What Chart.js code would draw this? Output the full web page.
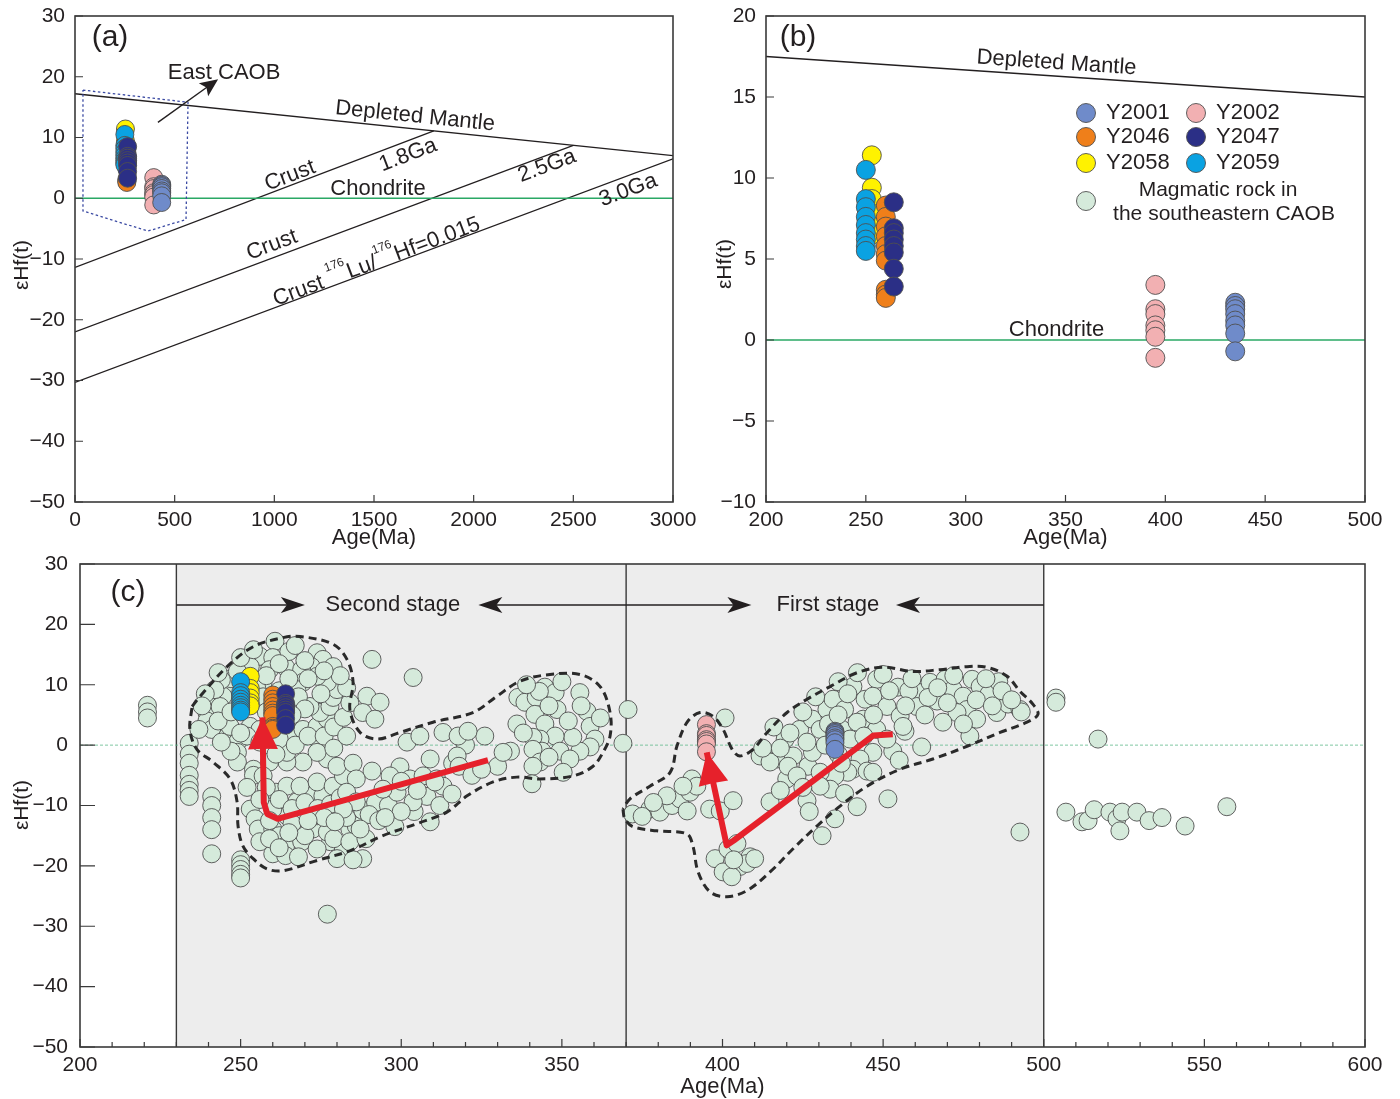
<!DOCTYPE html>
<html>
<head>
<meta charset="utf-8">
<script src="https://cdn.jsdelivr.net/npm/chart.js@4.4.1/dist/chart.umd.min.js"></script>
<style>
  body { margin: 0; background: #fff; }
  #wrap { position: relative; width: 1400px; height: 1099px; }
  canvas { position: absolute; }
</style>
</head>
<body>
<div id="wrap">
  <canvas id="chartA" width="700" height="550" style="left:0;top:0"></canvas>
  <canvas id="chartB" width="700" height="550" style="left:700px;top:0"></canvas>
  <canvas id="chartC" width="1400" height="549" style="left:0;top:550px"></canvas>
</div>
<script>
// ---------- samples (Age Ma, eHf(t)) ----------
const sampleNames = ['Y2001', 'Y2002', 'Y2046', 'Y2047', 'Y2058', 'Y2059'];
const y2001 = [[435,2.3],[435,2.1],[435,1.9],[435,1.6],[435,1.2],[435,0.9],[435,0.4],[435,-0.7]];
const y2002 = [[395,3.4],[395,1.9],[395,1.6],[395,0.9],[395,0.6],[395,0.2],[395,-1.1]];
const y2046 = [[260,8.3],[260,7.6],[260,7.0],[260,6.4],[260,5.8],[260,5.3],[260,4.9],[260,3.1],[260,2.8],[260,2.6]];
const y2047 = [[264,8.5],[264,6.9],[264,6.6],[264,6.2],[264,5.8],[264,5.4],[264,4.4],[264,3.3]];
const y2058 = [[253,11.4],[253,9.4],[253,8.7],[253,7.8],[253,7.0],[253,6.5]];
const y2059 = [[250,10.5],[250,8.7],[250,8.2],[250,7.6],[250,7.1],[250,6.6],[250,6.2],[250,5.8],[250,5.5]];

// ---------- magmatic rocks of the southeastern CAOB (panel c) ----------
const rockSecondStage = [
  [221,6.6],[221,5.5],[221,4.5],
  [234,0.3],[234,-1.5],[234,-3],[234,-5],[234,-6.5],[234,-7.5],[234,-8.5],
  [241,-8.5],[241,-10],[241,-12],[241,-14],[241,-18],
  [250,-19],[250,-19.8],[250,-20.6],[250,-21.4],[250,-22],[277,-28],
  [260.7,17.2],[256,14.7],[260,14.5],[273.8,15.3],[275.6,14.2],[278.8,13],[272,13],[264,12.9],[269,12.5],[259,12.5],
  [253,13],[246,9.7],[240,7.3],[239.5,5.4],[239.5,4],[241,2.6],[237,2.6],[244.5,4.8],[246,1.5],[249,0.5],
  [249,-1.2],[249,-2.8],[254,-4],[254,-5],[253,-10.6],[254.5,-12.2],[255.5,-13.9],[260,-13.9],[262,-15],[260,-18],
  [264,-16.7],[264,-18.3],[269,-16],[272.5,-13.9],[278,-16],[282,-17.2],[284,-13.9],[286,-13.4],[288,-18.8],[280,-18.8],
  [273.8,-17.2],[277,-14.4],[269,-11.7],[273.8,-11.7],[264.4,-11.7],[260,-10.6],[267.5,-9.4],[271.6,-8.4],[275.6,-8.4],[261,-7.8],
  [264.4,-6.8],[268.5,-6.8],[273.8,-6.1],[278.8,-6.8],[282,-5.1],[277,-2.3],[280,-3.5],[274.7,0.5],[273.8,-1.2],[269.4,-2.8],
  [264.4,-2.8],[264.4,-1.2],[259,-0.7],[259,-2.8],[257,-5.1],[266.3,1.5],[262,1],[269.4,2.6],[273.8,3.1],[277,4.3],
  [274.7,5.4],[271.6,6.4],[277.8,6.4],[278.8,7.9],[280,9.2],[277,10.4],[273.8,11.4],[269.4,10.4],[267.5,9.2],[257,10.4],
  [244.5,8.1],[243.6,6.4],[246.7,3.1],[253,3.1],[256,2.6],[252,1.5],
  [247,11],[249,12.2],[251,10.5],[255,9.5],[257,8],[262,9],[265,11],[268,8],[270,6],[266,5],
  [262,4.5],[258,5.5],[244,10.8],[242,9.2],[239,8.5],[238,6.5],[243,4],[247,5.5],[250,2],[256,0.5],
  [261,-1.5],[267,0],[271,1.5],[276,1.5],[279,3],[282,4.6],[284,7],[283,9.5],[281,11.5],[276,12.3],
  [270,14],[265,15.5],[262,13.5],[258,11.5],
  [258,-7],[262,-9],[266,-10.5],[270,-9.5],[274,-10.5],[278,-9.8],[281,-8.7],[266,-13],[270,-15],[276,-12],
  [283,-12],[288,-10.8],[292,-9.5],[296,-10],[256,-16],[259,-15.5],[262,-17],[268,-18.5],[285,-19],[290,-11.5],
  [243,12],[250,14.5],[254,15.8],[267,16.5],[271,11],[275,8.5],[279,-0.5],[283,1.5],[285,-3],[247,-1],
  [244,0.5],[252,-7],[256,-9],[259,-12.5],[265,-14.5],[271,-12.5],[279,-15.5],[284,-16],[289,-15.5],[293,-12.5],
  [298,-13.5],[304,-11],[308,-8.5],[312,-10],[316,-3],[320,0],[326,1.5],[330,-3.5],[334,-1],
  [290.9,14.2],[303.7,11.2],[289.3,8.1],[293.4,7.1],[288,5.4],[291.8,4.3],[301.8,0.5],[305.8,1.5],[313,2.1],[317.7,1.5],
  [320.8,2.3],[317.4,-1.8],[309,-2.3],[299.6,-3.6],[296.5,-5.1],[302.7,-5.6],[306.8,-5.1],[311,-5.6],[313,-6.8],[315.8,-8.1],
  [303.7,-9.4],[298.7,-7.8],[294.3,-7.3],[290.9,-4.3],[286,-5.6],[283,-7.8],[286,-9.4],[282,-10.6],[309,-12.7],[279.4,-12.7],
  [287.2,-13.9],[310.5,-6.1],[300,-6],[305,-7.5],[318,-3.5],[322,-5],[325,-4],[300,-11],[295,-12],[331.7,-1.2],
  [336.3,7.9],[338.5,7.1],[344.7,9.6],[347.9,8.7],[342,7.9],[341.6,5.1],[336,3.5],[344.7,3.5],[348.5,5.9],[355.6,8.7],
  [357.8,5.6],[358.8,3.1],[360.3,1],[358.8,-0.3],[355.6,-1],[353.4,1.3],[347.9,1.5],[343.2,1],[341,1.3],[343.8,-1],
  [341,-0.7],[349.4,-1],[352.5,-2.3],[343.2,-2.8],[341,-3.5],[350.4,-4.5],[340.7,-6.4],[343,8.9],[370.6,5.9],[369,0.3],
  [346,-2],[338,2],[352,4],[346,6.5],[339,10],[350,10.5],[356,6.5],[362,4.5]
];
const rockFirstStage = [
  [400.8,4.5],[372,-11.4],[377.4,-10.6],[380.5,-11.1],[384.3,-10],[386.8,-8.9],[389,-10.9],[389.9,-7.8],[390.5,-5.6],[392,-6.8],
  [396,-10.6],[399.3,-10.9],[403.3,-9.2],[382.7,-8.4],[387.7,-6.8],[375,-11.8],[378.5,-9.5],
  [397.7,-18.8],[401.7,-17.2],[404.5,-16.3],[408.6,-18.5],[405.4,-20.1],[400.2,-21],[402.9,-21.8],[407.6,-19.6],[410,-18.8],[403.5,-19],
  [414.8,-9.4],[420,-5.6],[426.3,-9.2],[419.5,1],[417,-2.3],[422,-1.8],[426.6,-3.5],[428,-1.2],[424,2.6],[428,4.3],
  [432.5,5.9],[434.4,7.6],[438,5.9],[440.6,9.7],[444.4,7.6],[443.8,4.3],[448,10.9],[450,11.7],[454.6,9.6],[446.8,8.1],
  [451.2,6.4],[455.3,4.8],[456.8,2.3],[453,-1],[446.8,-1.2],[442.8,-2.3],[440.6,-4],[445,-4.3],[446.8,-4.5],[439,-4.5],
  [435,-5.1],[430.4,-4.5],[433.5,-7.3],[430.4,-6.8],[435,-12.2],[431,-15],[441.9,-10.2],[451.5,-8.9],[462,-0.3],[461.5,8.7],
  [464.6,10.4],[466.8,7.3],[469.3,10.9],[471.8,9.2],[474.9,8.1],[477.7,10.9],[480.2,9.7],[476.1,5.9],[473,5.4],[468.6,3.8],
  [477,1.5],[479.1,4.3],[485.4,5.4],[488.9,6.8],[492.6,5.9],[493,5.5],[460.5,6.4],[464,7.9],[437.2,2.6],[439.7,1],
  [430.4,2.6],[426.3,0.5],[420.4,-3.5],[423.2,-5.1],[411.7,-1.8],[414.8,-2.8],[441.9,3.8],[448,2.6],[451.2,1],[456.2,3.1],
  [436,10.5],[442,12],[458,9],[483,8.5],[486,10.5],[470,7],[412.5,-0.5],[432,0],[436,-1.5],[492.6,-14.4],
  [416,3],[418,-0.5],[421,2],[425,5.5],[429,8],[433,3.5],[437,-3],[444,1.5],[447,5],[452,9],
  [457,6.5],[459,11],[463,5],[467,9.5],[472,11.5],[475,3.5],[479,7.5],[482,11],[484,6.5],[487,9],
  [490,7.5],[455,-2.5],[438,-8],[427,-11],[425,-7],[418,-7.5],[436,5],[439,8.5]
];
const rockOutside = [
  [503.8,7.8],[503.8,7.1],[516.9,1],[506.9,-11.1],[511.9,-12.7],[513.8,-12.5],[515.7,-10.7],[520.6,-11.1],
  [522.8,-12.2],[523.7,-14.2],[524.4,-11.1],[529,-11.1],[532.8,-12.5],[536.8,-12],[544,-13.4],[557,-10.2]
];

// ---------- reference lines ----------
const dmA = [[0,17.2],[3000,7.0]];
const crust18 = [[0,-11.4],[1800,11.1]];
const crust25 = [[0,-22.0],[2500,8.7]];
const crust30 = [[0,-30.3],[3000,6.5]];
const chondA = [[0,0],[3000,0]];
const eastCaobBox = [[40,17.8],[567,15.8],[557,-3.5],[366,-5.4],[40,-2.1],[40,17.8]];
const dmB = [[200,17.5],[500,15.0]];
const chondB = [[200,0],[500,0]];
const chondC = [[200,0],[600,0]];
const stageEdges = [230, 370, 500];

const hullSecond = [
  [234.9,6.4],[237.4,8.1],[245.8,13.0],[253.9,16.3],[263.2,17.8],[268.5,18.0],[278.8,16.7],[283.1,14.2],[285.0,10.4],
  [284.0,5.9],[287.2,2.1],[292.5,1.0],[299.6,2.1],[309.9,3.8],[322.3,5.4],[329.8,8.1],[337.0,10.6],[346.3,11.7],
  [355.6,11.7],[361.9,9.7],[365.0,5.4],[365.0,1.5],[362.8,-1.2],[359.7,-3.5],[353.5,-5.1],[343.2,-5.6],[336.0,-5.3],
  [328.6,-6.1],[320.5,-8.4],[314.2,-11.1],[304.9,-13.0],[294.3,-15.0],[284.0,-17.5],[273.8,-19.1],[263.2,-20.8],
  [258.2,-20.5],[253.9,-18.8],[250.7,-16.7],[249.2,-13.4],[248.9,-9.4],[246.7,-5.6],[241.4,-2.8],[236.4,-0.7],
  [234.2,2.6],[234.9,6.4]
];
const hullFirst = [
  [369.0,-10.6],[369.6,-12.2],[372.1,-13.5],[379.6,-14.2],[388.9,-14.7],[390.8,-16.7],[392.4,-21.0],[396.1,-24.3],
  [401.4,-25.1],[407.6,-24.1],[414.8,-21.0],[421.9,-17.2],[429.4,-13.4],[436.6,-10.1],[445.0,-6.8],[455.3,-4.0],
  [465.5,-2.3],[476.1,-0.2],[486.4,2.1],[494.8,3.8],[498.2,5.1],[496.6,6.8],[492.6,8.9],[488.6,11.4],[482.3,12.9],
  [476.1,13.0],[467.7,12.5],[459.3,12.2],[450.0,12.9],[441.9,12.0],[433.5,9.7],[426.3,7.6],[420.1,5.4],[413.9,2.1],
  [409.5,-0.7],[405.4,-1.8],[403.0,-0.7],[400.2,2.6],[397.0,4.8],[393.0,5.4],[389.0,3.8],[385.8,-0.2],[383.7,-4.5],
  [377.4,-6.8],[371.2,-8.9],[369.0,-10.6]
];
const trendSecond = [[327,-2.5],[261.5,-12.2],[258.3,-11.4],[257.2,-9.5],[256.8,4.6]];
const trendFirst = [[453,1.8],[447,1.6],[443,0],[403.5,-15.8],[401.3,-16.6],[395.1,-1.2]];

// ---------- style ----------
const FONT = "'Liberation Sans', Arial, Helvetica, sans-serif";
const INK = '#231f20';
const FRAME = '#3a3a3a';
const ROCK = '#d5eadb';
const RED = '#e6212b';
const sampleColors = ['#6f8bca', '#f2b0b2', '#ef7f1a', '#2b2f86', '#fff200', '#0aa2e2'];
const sampleData = [y2001, y2002, y2046, y2047, y2058, y2059];
const sampleOrder = [6, 6, 8, 7, 8, 7];

Chart.defaults.font.family = FONT;
Chart.defaults.color = INK;

const toXY = arr => arr.map(([x, y]) => ({ x, y }));
const num = v => (v < 0 ? '\u2212' + Math.abs(v) : String(v));

function lineSet(data, color, width, order, extra) {
  return Object.assign({
    data: toXY(data), showLine: true, borderColor: color, borderWidth: width,
    pointRadius: 0, pointHoverRadius: 0, fill: false, tension: 0, order
  }, extra || {});
}
function dotSet(data, color, r, order) {
  return {
    data: toXY(data), showLine: false, backgroundColor: color, borderColor: '#4f4f4f',
    borderWidth: 0.9, pointRadius: r, pointHoverRadius: r, order
  };
}
function sampleSets(r) {
  return sampleData.map((d, i) => dotSet(d, sampleColors[i], r, sampleOrder[i]));
}

// fixed axis boxes: the layout padding alone decides where the plot frame sits
function noPad(s) { s.paddingTop = 0; s.paddingBottom = 0; s.paddingLeft = 0; s.paddingRight = 0; }

function axes(xr, yr, yWidth, xHeight, yPad) {
  return {
    x: {
      type: 'linear', min: xr[0], max: xr[1],
      grid: { display: false, drawTicks: false }, border: { display: false },
      ticks: { stepSize: xr[2], padding: 6, font: { size: 21 }, color: INK, autoSkip: false, maxRotation: 0, callback: num },
      afterFit: s => { s.height = xHeight; noPad(s); }
    },
    y: {
      type: 'linear', min: yr[0], max: yr[1],
      grid: { display: false, drawTicks: false }, border: { display: false },
      ticks: { stepSize: yr[2], padding: yPad, font: { size: 21 }, color: INK, autoSkip: false, callback: num },
      afterFit: s => { s.width = yWidth; noPad(s); }
    }
  };
}

function text(ctx, str, x, y, size, opt) {
  opt = opt || {};
  ctx.save();
  ctx.translate(x, y);
  if (opt.angle) ctx.rotate(opt.angle);
  ctx.font = size + 'px ' + FONT;
  ctx.fillStyle = opt.color || INK;
  ctx.textAlign = opt.align || 'center';
  ctx.textBaseline = 'middle';
  ctx.fillText(str, 0, 0);
  ctx.restore();
}

function richText(ctx, parts, x, y, size, angle) {
  ctx.save();
  ctx.translate(x, y);
  ctx.rotate(angle);
  ctx.fillStyle = INK;
  ctx.textAlign = 'left';
  ctx.textBaseline = 'alphabetic';
  const fontOf = sup => (sup ? size * 0.55 : size) + 'px ' + FONT;
  let w = 0;
  parts.forEach(([s, sup]) => { ctx.font = fontOf(sup); w += ctx.measureText(s).width; });
  let cx = -w / 2;
  parts.forEach(([s, sup]) => {
    ctx.font = fontOf(sup);
    ctx.fillText(s, cx, sup ? -size * 0.3 : size * 0.36);
    cx += ctx.measureText(s).width;
  });
  ctx.restore();
}

function arrowHead(ctx, x1, y1, x2, y2, len, half, color, notch) {
  const a = Math.atan2(y2 - y1, x2 - x1);
  ctx.save();
  ctx.fillStyle = color;
  ctx.translate(x2, y2);
  ctx.rotate(a);
  ctx.beginPath();
  ctx.moveTo(0, 0);
  ctx.lineTo(-len, -half);
  ctx.lineTo(-len * (1 - notch), 0);
  ctx.lineTo(-len, half);
  ctx.closePath();
  ctx.fill();
  ctx.restore();
}

function arrow(ctx, x1, y1, x2, y2, width, len, half, color, notch) {
  const a = Math.atan2(y2 - y1, x2 - x1);
  ctx.save();
  ctx.strokeStyle = color;
  ctx.lineWidth = width;
  ctx.beginPath();
  ctx.moveTo(x1, y1);
  ctx.lineTo(x2 - Math.cos(a) * len * 0.6, y2 - Math.sin(a) * len * 0.6);
  ctx.stroke();
  ctx.restore();
  arrowHead(ctx, x1, y1, x2, y2, len, half, color, notch);
}

function dot(ctx, x, y, r, color) {
  ctx.save();
  ctx.beginPath();
  ctx.arc(x, y, r, 0, Math.PI * 2);
  ctx.fillStyle = color;
  ctx.fill();
  ctx.lineWidth = 0.9;
  ctx.strokeStyle = '#4f4f4f';
  ctx.stroke();
  ctx.restore();
}

// frame + inward tick marks
const framePlugin = {
  id: 'frame',
  afterDatasetsDraw(chart, args, o) {
    const { ctx, chartArea: a, scales: { x, y } } = chart;
    ctx.save();
    ctx.strokeStyle = FRAME;
    ctx.lineWidth = 1.2;
    ctx.beginPath();
    x.ticks.forEach(t => {
      const p = x.getPixelForValue(t.value);
      ctx.moveTo(p, a.bottom); ctx.lineTo(p, a.bottom - o.xTick);
    });
    if (o.minorX) {
      for (let v = x.min + o.minorX; v < x.max; v += o.minorX) {
        if (v % x.options.ticks.stepSize === 0) continue;
        const p = x.getPixelForValue(v);
        ctx.moveTo(p, a.bottom); ctx.lineTo(p, a.bottom - o.minorLen);
      }
    }
    y.ticks.forEach(t => {
      const p = y.getPixelForValue(t.value);
      ctx.moveTo(a.left, p); ctx.lineTo(a.left + o.yTick, p);
    });
    ctx.stroke();
    ctx.lineWidth = 1.6;
    ctx.strokeRect(a.left, a.top, a.right - a.left, a.bottom - a.top);
    ctx.restore();
  }
};

// axis titles + panel tag
const titlePlugin = {
  id: 'titles',
  afterDraw(chart, args, o) {
    const { ctx, chartArea: a } = chart;
    text(ctx, 'Age(Ma)', (a.left + a.right) / 2, a.bottom + o.xGap, 22);
    text(ctx, '\u03b5Hf(t)', o.yX, o.yY, 21, { angle: -Math.PI / 2 });
    text(ctx, o.tag, a.left + o.tagDx, a.top + o.tagDy, 30);
  }
};

function segAngle(x, y, seg) {
  return Math.atan2(y.getPixelForValue(seg[1][1]) - y.getPixelForValue(seg[0][1]),
                    x.getPixelForValue(seg[1][0]) - x.getPixelForValue(seg[0][0]));
}

// panel (a) labels
const annotA = {
  id: 'annotA',
  afterDatasetsDraw(chart) {
    const { ctx, scales: { x, y } } = chart;
    const X = v => x.getPixelForValue(v), Y = v => y.getPixelForValue(v);
    text(ctx, 'Depleted Mantle', X(1706), Y(13.5), 22, { angle: segAngle(x, y, dmA) });
    text(ctx, 'Crust', X(1079), Y(3.7), 22, { angle: segAngle(x, y, crust18) });
    text(ctx, '1.8Ga', X(1671), Y(7.1), 22, { angle: segAngle(x, y, crust18) });
    text(ctx, 'Chondrite', X(1520), Y(1.6), 22);
    text(ctx, 'Crust', X(988), Y(-7.7), 22, { angle: segAngle(x, y, crust25) });
    text(ctx, '2.5Ga', X(2368), Y(5.3), 22, { angle: segAngle(x, y, crust25) });
    richText(ctx, [['Crust ', 0], ['176', 1], ['Lu/', 0], ['176', 1], ['Hf=0.015', 0]],
      X(1510), Y(-10.2), 22, segAngle(x, y, crust30));
    text(ctx, '3.0Ga', X(2775), Y(1.3), 22, { angle: segAngle(x, y, crust30) });
    text(ctx, 'East CAOB', X(748), Y(20.6), 22);
    arrow(ctx, X(416), Y(12.5), X(718), Y(19.6), 1.4, 18, 8, INK, 0.2);
  }
};

// panel (b) labels + legend
const annotB = {
  id: 'annotB',
  afterDraw(chart) {
    const { ctx, chartArea: a, scales: { x, y } } = chart;
    text(ctx, 'Depleted Mantle', x.getPixelForValue(345.5), y.getPixelForValue(17.1), 22, { angle: segAngle(x, y, dmB) });
    text(ctx, 'Chondrite', x.getPixelForValue(345.5), y.getPixelForValue(0.65), 22);
    const cols = [a.left + 320, a.left + 430];
    const rows = [a.top + 97, a.top + 121, a.top + 147];
    sampleNames.forEach((name, i) => {
      const cx = cols[i % 2], cy = rows[Math.floor(i / 2)];
      dot(ctx, cx, cy, 9.5, sampleColors[i]);
      text(ctx, name, cx + 20, cy, 22, { align: 'left' });
    });
    dot(ctx, cols[0], a.top + 185, 9.5, ROCK);
    text(ctx, 'Magmatic rock in', a.left + 452, a.top + 174, 21);
    text(ctx, 'the southeastern CAOB', a.left + 458, a.top + 198, 21);
  }
};

// panel (c) stages, arrows
const annotC = {
  id: 'annotC',
  beforeDatasetsDraw(chart) {
    const { ctx, chartArea: a, scales: { x } } = chart;
    const l = x.getPixelForValue(stageEdges[0]), r = x.getPixelForValue(stageEdges[2]);
    ctx.save();
    ctx.fillStyle = '#ededed';
    ctx.fillRect(l, a.top, r - l, a.bottom - a.top);
    ctx.strokeStyle = FRAME;
    ctx.lineWidth = 1.4;
    ctx.beginPath();
    stageEdges.forEach(v => { const p = x.getPixelForValue(v); ctx.moveTo(p, a.top); ctx.lineTo(p, a.bottom); });
    ctx.stroke();
    ctx.restore();
  },
  afterDatasetsDraw(chart) {
    const { ctx, scales: { x, y } } = chart;
    const X = v => x.getPixelForValue(v), Y = v => y.getPixelForValue(v);
    const ay = Y(23.2);
    arrow(ctx, X(230), ay, X(270), ay, 1.5, 24, 8, INK, 0.25);
    arrow(ctx, X(370), ay, X(324), ay, 1.5, 24, 8, INK, 0.25);
    arrow(ctx, X(370), ay, X(409), ay, 1.5, 24, 8, INK, 0.25);
    arrow(ctx, X(500), ay, X(454), ay, 1.5, 24, 8, INK, 0.25);
    text(ctx, 'Second stage', X(297.4), ay, 22);
    text(ctx, 'First stage', X(432.8), ay, 22);
    [trendSecond, trendFirst].forEach(tr => {
      const p = tr[tr.length - 2], q = tr[tr.length - 1];
      arrowHead(ctx, X(p[0]), Y(p[1]), X(q[0]), Y(q[1]), 32, 15, RED, 0.02);
    });
  }
};

function makeChart(id, datasets, scales, padding, plugins, pluginOpts) {
  return new Chart(document.getElementById(id), {
    type: 'scatter',
    data: { datasets },
    options: {
      responsive: false, animation: false, events: [],
      layout: { padding },
      scales,
      plugins: Object.assign({ legend: { display: false }, tooltip: { enabled: false } }, pluginOpts)
    },
    plugins
  });
}

// ---------- (a) ----------
makeChart('chartA', [
  lineSet(dmA, INK, 1.3, 20),
  lineSet(crust18, INK, 1.3, 20),
  lineSet(crust25, INK, 1.3, 20),
  lineSet(crust30, INK, 1.3, 20),
  lineSet(chondA, '#2aa865', 1.6, 19),
  lineSet(eastCaobBox, '#3b4aa3', 1.3, 18, { borderDash: [2.5, 2.5] }),
  ...sampleSets(9)
], axes([0, 3000, 500], [-50, 30, 10], 75, 48, 10), { top: 16, right: 27, left: 0, bottom: 0 },
  [annotA, framePlugin, titlePlugin],
  { frame: { xTick: 7, yTick: 8 }, titles: { xGap: 36, yX: 22, yY: 265, tag: '(a)', tagDx: 35, tagDy: 22 } });

// ---------- (b) ----------
makeChart('chartB', [
  lineSet(dmB, INK, 1.3, 20),
  lineSet(chondB, '#2aa865', 1.6, 19),
  ...sampleSets(9.5)
], axes([200, 500, 50], [-10, 20, 5], 66, 48, 10), { top: 16, right: 35, left: 0, bottom: 0 },
  [framePlugin, annotB, titlePlugin],
  { frame: { xTick: 7, yTick: 8 }, titles: { xGap: 36, yX: 25, yY: 264, tag: '(b)', tagDx: 32, tagDy: 22 } });

// ---------- (c) ----------
makeChart('chartC', [
  lineSet(chondC, '#5fb98c', 0.8, 20, { borderDash: [3, 2] }),
  dotSet(rockSecondStage.concat(rockFirstStage, rockOutside), ROCK, 9, 15),
  lineSet(hullSecond, '#2a2a2a', 3, 12, { borderDash: [8, 5], tension: 0.35 }),
  lineSet(hullFirst, '#2a2a2a', 3, 12, { borderDash: [8, 5], tension: 0.35 }),
  ...sampleSets(9),
  lineSet(trendSecond, RED, 6, 1, { borderJoinStyle: 'round', borderCapStyle: 'butt' }),
  lineSet(trendFirst, RED, 6, 1, { borderJoinStyle: 'round', borderCapStyle: 'butt' })
], axes([200, 600, 50], [-50, 30, 10], 80, 52, 12), { top: 14, right: 35, left: 0, bottom: 0 },
  [annotC, framePlugin, titlePlugin],
  { frame: { xTick: 8, yTick: 15, minorX: 10, minorLen: 5 }, titles: { xGap: 40, yX: 22, yY: 255, tag: '(c)', tagDx: 48, tagDy: 29 } });
</script>
</body>
</html>
